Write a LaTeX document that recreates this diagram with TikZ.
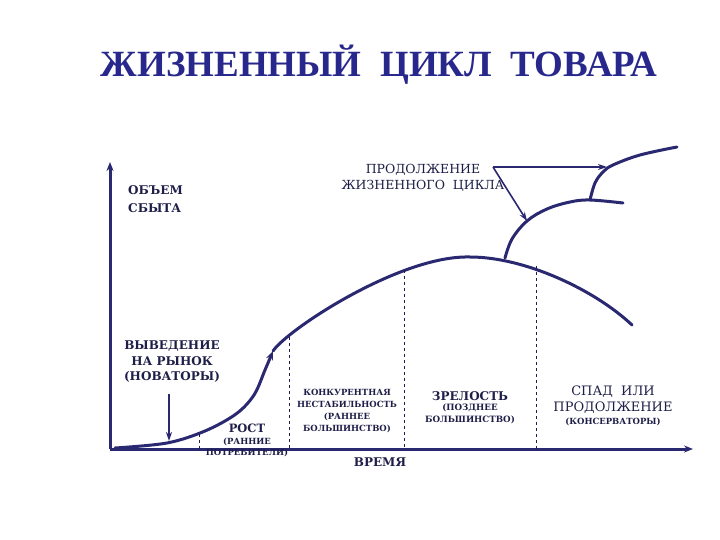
\documentclass[tikz,border=0pt]{standalone}
\usepackage{fontspec}
\setmainfont{Liberation Serif}
\newfontfamily\lblfont{DejaVu Serif}
\usepackage{xcolor}
\definecolor{lcNavy}{RGB}{42,40,112}
\definecolor{lcTitle}{RGB}{40,40,140}
\definecolor{lcInk}{RGB}{30,30,72}
\usepackage{tikz}
\usetikzlibrary{positioning,arrows.meta}
\tikzset{
  lc-axis/.style={-{Stealth[length=9pt,width=7pt]},lcNavy,line width=3pt},
  lc-curve/.style={lcNavy,line width=3pt,line cap=round},
  lc-arrow/.style={-{Stealth[length=9pt,width=6pt]},lcNavy,line width=1.6pt},
  lc-dash/.style={lcInk,dashed,thin},
  lc-lbl/.style={text=lcInk,align=center,inner sep=0pt},
}
% size, line skip
\newcommand{\lcfs}[2]{\lblfont\fontsize{#1}{#2}\selectfont}

\begin{document}
\begin{tikzpicture}[x=1pt,y=-1pt]
  \useasboundingbox (0,0) rectangle (720,540);

  % title
  \node[text=lcTitle,font=\fontsize{37}{40}\selectfont\bfseries] (title) at (379,65) {ЖИЗНЕННЫЙ\ \ ЦИКЛ\ \ ТОВАРА};

  % axes
  \coordinate (orig) at (110,449);
  \coordinate (yend) at (110,162);
  \coordinate (xend) at (693,449);
  \draw[lc-axis] (orig) -- (yend);
  \draw[lc-axis] (orig) -- (xend);

  % main curve
  \coordinate (bend) at (273,351);
  \coordinate (peak) at (470,257);
  \coordinate (fall) at (632,325);
  \draw[lc-curve,-{Stealth[length=9pt,width=7pt]}] plot[smooth,tension=0.55] coordinates
    {(115,448) (167,443) (205,431) (236,414) (254,395) (265,370) (273,351)};
  \draw[lc-curve] (bend) .. controls (287,330) and (400,255) .. (peak)
    .. controls (525,257) and (595,290) .. (fall);

  % continuation curves
  \draw[lc-curve] plot[smooth,tension=0.6] coordinates
    {(505,258) (512,239) (527,221) (547,209) (570,202) (590,200) (623,203)};
  \draw[lc-curve] plot[smooth,tension=0.6] coordinates
    {(590,200) (595,183) (603,172) (613,165) (640,155) (677,147)};

  % stage borders
  \coordinate (c1) at (199,434);
  \coordinate (c2) at (289,337);
  \coordinate (c3) at (404,270);
  \coordinate (c4) at (536,266);
  \foreach \c in {c1,c2,c3,c4}
    \draw[lc-dash] (\c) -- (\c |- orig);

  % axis labels
  \node[lc-lbl,font=\lcfs{12}{18}\bfseries,align=left,anchor=north west] (volume) at (128,185) {ОБЪЕМ\\СБЫТА};
  \node[lc-lbl,font=\lcfs{12}{14}\bfseries] (time) at (380,462) {ВРЕМЯ};

  % continuation label
  \node[lc-lbl,font=\lcfs{12.5}{16}] (prod) at (423,178) {ПРОДОЛЖЕНИЕ\\ЖИЗНЕННОГО\ \ ЦИКЛА};
  \coordinate (prodtip) at (493,167);
  \coordinate (hit1) at (607,167);
  \coordinate (hit2) at (527,221);
  \draw[lc-arrow] (prodtip) -- (hit1);
  \draw[lc-arrow] (prodtip) -- (hit2);

  % stages
  \node[lc-lbl,font=\lcfs{12}{15.5}\bfseries] (launch) at (172,362) {ВЫВЕДЕНИЕ\\НА РЫНОК\\(НОВАТОРЫ)};
  \coordinate (launchpt) at (169,441);
  \draw[lc-arrow] (169,394) -- (launchpt);

  \node[lc-lbl,font=\lcfs{11.5}{13}\bfseries] (growth) at (247,428) {РОСТ};
  \node[lc-lbl,font=\lcfs{8.5}{11}\bfseries,below=5pt of growth] (growthsub) {(РАННИЕ\\ПОТРЕБИТЕЛИ)};

  \node[lc-lbl,font=\lcfs{8.5}{12}\bfseries] (compet) at (347,411) {КОНКУРЕНТНАЯ\\НЕСТАБИЛЬНОСТЬ\\(РАННЕЕ\\БОЛЬШИНСТВО)};

  \node[lc-lbl,font=\lcfs{12}{13}\bfseries] (mature) at (470,396) {ЗРЕЛОСТЬ};
  \node[lc-lbl,font=\lcfs{8.7}{12}\bfseries,below=3pt of mature] (maturesub) {(ПОЗДНЕЕ\\БОЛЬШИНСТВО)};

  \node[lc-lbl,font=\lcfs{13}{16}] (decline) at (613,400) {СПАД\ \ ИЛИ\\ПРОДОЛЖЕНИЕ};
  \node[lc-lbl,font=\lcfs{8.5}{11}\bfseries,below=4pt of decline] (declinesub) {(КОНСЕРВАТОРЫ)};
\end{tikzpicture}
\end{document}
